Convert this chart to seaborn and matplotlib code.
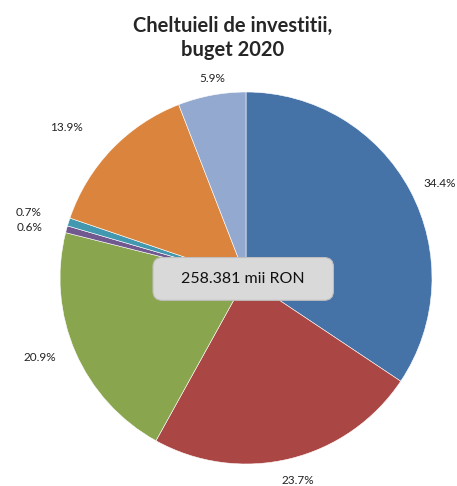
import numpy as np
import seaborn as sns
import matplotlib.pyplot as plt
from matplotlib.patches import FancyBboxPatch

sns.set_theme(style="white")
plt.rcParams['font.family'] = ['Lato', 'DejaVu Sans']

# data, clockwise from 12 o'clock
categories = ['A', 'B', 'C', 'D', 'E', 'F', 'G']
shares = [34.4, 23.7, 20.9, 0.6, 0.7, 13.9, 5.9]
colors = ['#4572A7', '#AA4643', '#89A54E', '#71588F', '#4198AF', '#DB843D', '#93A9CF']
total_label = '258.381 mii RON'
title = 'Cheltuieli de investitii,\nbuget 2020'

fig = plt.figure(figsize=(4.57, 4.86), dpi=100)
ax = fig.add_axes([60 / 457, 22 / 486, 372 / 457, 372 / 486])

wedges, texts, autotexts = ax.pie(
    shares, colors=colors, startangle=90, counterclock=False,
    autopct='%1.1f%%', pctdistance=1.08, radius=1,
    wedgeprops=dict(edgecolor='white', linewidth=0.4),
    textprops=dict(fontsize=8.5, color='#222222'))
ax.set_xlim(-1, 1)
ax.set_ylim(-1, 1)
ax.set_aspect('equal')
ax.axis('off')

# excel-like label anchoring: outside edge of the text touches the ring
for w, t in zip(wedges, autotexts):
    ang = np.deg2rad((w.theta1 + w.theta2) / 2)
    dx, dy = np.cos(ang), np.sin(ang)
    if abs(dx) > 0.5:
        t.set_ha('left' if dx > 0 else 'right')
        t.set_va('center')
    else:
        t.set_ha('center')
        t.set_va('bottom' if dy > 0 else 'top')

# nudge a few labels like the original layout
nudges = {1: (0.025, -0.008), 2: (-0.03, 0), 3: (-0.05, -0.01),
          4: (-0.07, 0.025), 5: (-0.1, 0.06), 6: (0.015, -0.02)}
for i, (ddx, ddy) in nudges.items():
    x, y = autotexts[i].get_position()
    autotexts[i].set_position((x + ddx, y + ddy))

box = FancyBboxPatch((-0.48, -0.10), 0.93, 0.19,
                     boxstyle='round,pad=0.02,rounding_size=0.05',
                     fc='#d9d9d9', ec='#bfbfbf', lw=0.8, zorder=5)
ax.add_patch(box)
ax.text(-0.015, -0.005, total_label, ha='center', va='center', fontsize=11.5,
        color='#111111', zorder=6)

fig.text(233 / 457, 1 - 38 / 486, title, ha='center', va='center',
         fontsize=14.5, fontweight='bold', linespacing=1.2)

plt.savefig('out.png', dpi=100)
plt.close()
